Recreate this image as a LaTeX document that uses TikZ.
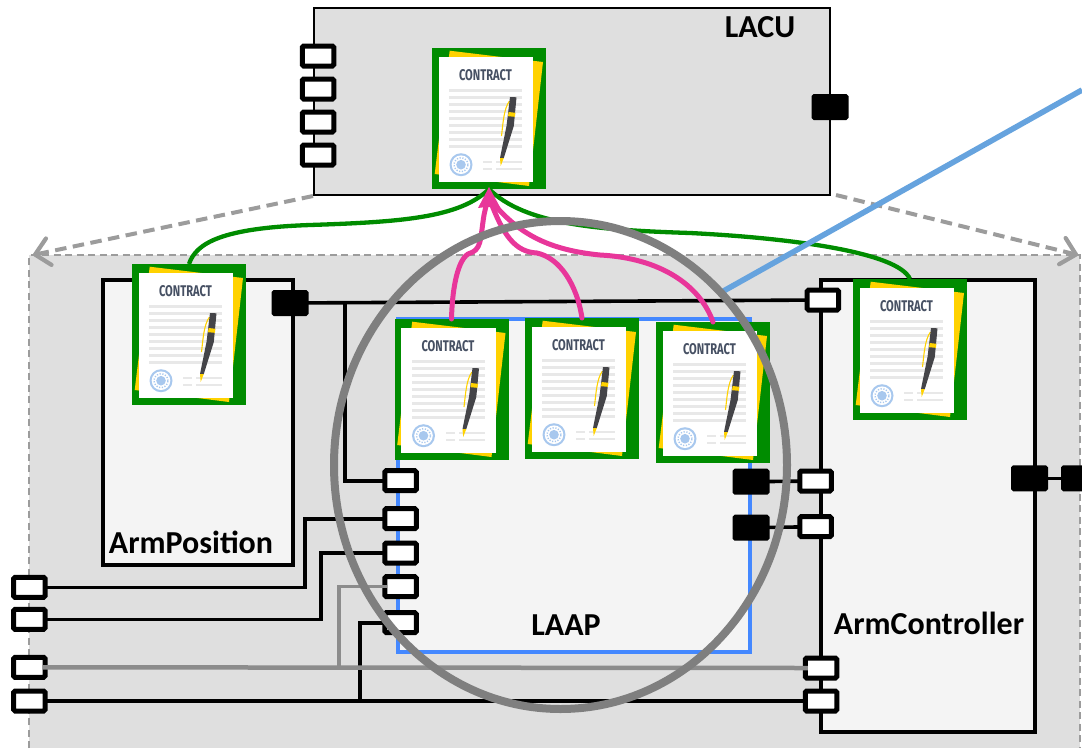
\documentclass[tikz,border=0pt]{standalone}
\usepackage{fontspec}
\usepackage{graphicx}
\setmainfont[RawFeature={+dlig}]{Carlito}
\newfontfamily\contractfont{Fira Sans}
\usetikzlibrary{shapes.geometric,arrows.meta,calc}
\definecolor{bggray}{HTML}{DFDFDF}
\definecolor{innergray}{HTML}{F4F4F4}
\definecolor{dashgray}{HTML}{9C9C9C}
\definecolor{wiregray}{HTML}{8C8C8C}
\definecolor{lensgray}{HTML}{7F7F7F}
\definecolor{laapblue}{HTML}{4488FF}
\definecolor{linkblue}{HTML}{66A3DE}
\definecolor{contractgreen}{HTML}{008C00}
\definecolor{linkpink}{HTML}{E8369A}
\definecolor{pageyellow}{HTML}{FFD200}
\definecolor{rulegray}{HTML}{E8E8E8}
\definecolor{titleslate}{HTML}{465063}
\definecolor{sealblue}{HTML}{A8C8EE}
\definecolor{pendark}{HTML}{444448}
\tikzset{
  x=1pt,y=-1pt,
  portw/.style={draw=black,fill=white,line width=5pt,rounded corners=1.5pt,minimum width=31.5pt,minimum height=20pt,inner sep=0pt,outer sep=0pt},
  portb/.style={draw=black,fill=black,line width=2pt,rounded corners=1.5pt,minimum width=35pt,minimum height=24pt,inner sep=0pt,outer sep=0pt},
  block/.style={draw=black,fill=innergray,line width=3.5pt,inner sep=0pt,outer sep=0pt,anchor=north west},
  label/.style={font=\bfseries\fontsize{32}{34}\selectfont,inner sep=0pt},
  wire/.style={draw=black,line width=3.6pt},
  graywire/.style={draw=wiregray,line width=4.5pt},
  greenlink/.style={draw=contractgreen,line width=4.3pt},
  pinklink/.style={draw=linkpink,line width=5pt,line cap=round},
  dashlink/.style={draw=dashgray,line width=4pt,dash pattern=on 11.5pt off 6.5pt,-{Straight Barb[length=14pt,width=27pt,line width=4.2pt,round]}},
  contract/.pic={
    \node (-box) [fill=contractgreen,minimum width=114pt,minimum height=141pt,inner sep=0pt,outer sep=0pt,anchor=north west] at (0,0) {};
    \fill[pageyellow] (17.7,2.7) -- (111,14) -- (97,138) -- (2.7,126) -- cycle;
    \fill[contractgreen] (0,132) rectangle (6,141);
    \fill[white] (6.7,9) rectangle (101,134);
    \node (-title) [inner sep=0pt,text=titleslate] at (53.5,27) {\resizebox{53pt}{11pt}{\contractfont\bfseries CONTRACT}};
    \foreach \ry in {42.3,49.3,...,98.4}{\fill[rulegray] (17.3,\ry-1.4) rectangle (90.3,\ry+1.4);}
    \foreach \ry in {114,121}{
      \fill[rulegray] (51.3,\ry-1.4) rectangle (60.3,\ry+1.4);
      \fill[rulegray] (64.3,\ry-1.4) rectangle (90.3,\ry+1.4);}
    \fill[sealblue] (29,116.7) circle[radius=11.5pt];
    \fill[white] (29,116.7) circle[radius=9.3pt];
    \draw[sealblue,line width=1.4pt,dash pattern=on 1.2pt off 1.6pt] (29,116.7) circle[radius=7pt];
    \fill[sealblue] (29,116.7) circle[radius=4.8pt];
    \draw[pageyellow,line width=1.1pt] (77.5,53) .. controls (72,60) and (71,75) .. (69.5,88);
    \fill[pendark] (78,49) -- (84.5,49.3) -- (81.8,78) -- (71.8,110) -- (68,110) -- (74.5,78) -- cycle;
    \fill[pageyellow] (76.6,64) -- (83.4,64.8) -- (82.9,68.8) -- (76,68.2) -- cycle;
    \fill[pageyellow] (68,110) -- (71.8,110) -- (68.7,118) -- cycle;
  },
}
\begin{document}
\begin{tikzpicture}
\useasboundingbox (0,0) rectangle (1082,748);
% containers
\fill[bggray] (29,255) rectangle (1080,748);
\draw[dashgray,line width=1.8pt,dash pattern=on 7pt off 4.5pt] (29,748) -- (29,255) -- (1080,255) -- (1080,748);
\node (lacu) [block,line width=2.4pt,fill=bggray,minimum width=516pt,minimum height=187pt] at (314,8) {};
\node (lacutitle) [label,fill=none] at (760,27) {LACU};
\coordinate (dashstartl) at (313,196);
\coordinate (dashendl) at (33,255);
\coordinate (dashstartr) at (836,195);
\coordinate (dashendr) at (1078,255);
\draw[dashlink] (dashstartl) -- (dashendl);
\draw[dashlink] (dashstartr) -- (dashendr);
\node (armpos) [block,minimum width=190pt,minimum height=285pt] at (103,280) {};
\node (armctl) [block,minimum width=214pt,minimum height=452pt] at (821,280) {};
\node (laap) [block,draw=laapblue,line width=3.8pt,minimum width=352pt,minimum height=333pt] at (398,319) {};
\node (armpostitle) [label] at (191,542) {ArmPosition};
\node (armctltitle) [label] at (929,623) {ArmController};
\node (laaptitle) [label] at (566,625) {LAAP};
% ports
\node (l1) [portw] at (318,56) {};
\node (l2) [portw] at (318,89) {};
\node (l3) [portw] at (318,122) {};
\node (l4) [portw] at (318,155) {};
\node (lb) [portb] at (830,107) {};
% wires
\coordinate (pa) at (29.3,587.3);
\coordinate (pb) at (29.3,619.3);
\coordinate (pc) at (29.3,667.3);
\coordinate (pd) at (29.3,701);
\coordinate (ia) at (400.5,480.7);
\coordinate (ib) at (400.5,518.7);
\coordinate (ic) at (400.5,553);
\coordinate (id) at (400.5,586.7);
\coordinate (ie) at (400.5,622.7);
\coordinate (ja) at (305,587.3);
\coordinate (jb) at (321,619.3);
\coordinate (jc) at (339,667.5);
\coordinate (jd) at (360,701);
\coordinate (je) at (345,303);
\coordinate (apo) at (290,303);
\coordinate (ct) at (822.8,300);
\coordinate (cg) at (821,668);
\coordinate (cb) at (821,701);
\draw[wire] (apo) -- (ct);
\draw[wire] (je) |- (ia);
\draw[wire] (pa) -- (ja) |- (ib);
\draw[wire] (pb) -- (jb) |- (ic);
\draw[wire] (pd) -- (cb);
\draw[wire] (jd) |- (ie);
\coordinate (rb1) at (751,481.7);
\coordinate (rb2) at (751,527.7);
\coordinate (rw1) at (815.5,481);
\coordinate (rw2) at (815.5,526.7);
\draw[wire] (rb1) -- (rw1);
\draw[wire] (rb2) -- (rw2);
\coordinate (eb1) at (1029.5,478.3);
\coordinate (eb2) at (1073,478.3);
\draw[wire] (eb1) -- (eb2);
% ports
\node (napo) [portb] at (apo) {};
\node (nct) [portw] at (ct) {};
\node (ncg) [portw] at (cg) {};
\node (ncb) [portw] at (cb) {};
\node (npa) [portw] at (pa) {};
\node (npb) [portw] at (pb) {};
\node (npc) [portw] at (pc) {};
\node (npd) [portw] at (pd) {};
\node (nia) [portw] at (ia) {};
\node (nib) [portw] at (ib) {};
\node (nic) [portw] at (ic) {};
\node (nid) [portw] at (id) {};
\node (nie) [portw] at (ie) {};
\node (nrb1) [portb] at (rb1) {};
\node (nrb2) [portb] at (rb2) {};
\node (nrw1) [portw] at (rw1) {};
\node (nrw2) [portw] at (rw2) {};
\node (neb1) [portb] at (eb1) {};
\node (neb2) [portb,minimum width=22pt] at (eb2) {};
% gray wires sit over the port borders
\draw[graywire] ($(npc.east)+(-2.5,0)$) -- ($(ncg.west)+(2.5,0)$);
\draw[graywire,line width=3.4pt] (jc) |- ($(nid.west)+(2.5,0)$);
% contracts
\pic (c0) at (432,48) {contract};
\pic (c1) at (394.5,319) {contract};
\pic (c2) at (525,318) {contract};
\pic (c3) at (656,322) {contract};
\pic (c4) at (853,279) {contract};
\pic (c5) at (132,264) {contract};
% green links
\draw[greenlink] (c5-box.north) .. controls (196,243) and (222,228) .. (310,225) .. controls (400,222) and (460,218) .. (c0-box.south);
\draw[greenlink] (c4-box.north) .. controls (898,252) and (790,238) .. (690,233) .. controls (600,230) and (525,225) .. (c0-box.south);
% pink links
\draw[pinklink] (c1-box.north) .. controls (452,295) and (456,262) .. (468,254) .. controls (482,250) and (480,240) .. (484,215) -- (488,197);
\draw[pinklink] (c2-box.north) .. controls (577,285) and (560,258) .. (537,253) .. controls (515,252) and (503,235) .. (490,200);
\draw[pinklink] (c3-box.north) .. controls (700,285) and (660,258) .. (600,255) .. controls (550,250) and (520,235) .. (493,203);
\fill[linkpink] (c0-box.south) ++(0,-2) -- ++(-11,21) -- ++(8,-1) -- ++(6,0) -- ++(8,0) -- cycle;
% blue link
\coordinate (blueend) at (1082,90);
\coordinate (bluestart) at (720,293);
\draw[linkblue,line width=5.6pt] (bluestart) -- (blueend);
% lens
\node (lens) [ellipse,draw=lensgray,line width=8pt,minimum width=453pt,minimum height=488pt,inner sep=0pt,outer sep=0pt] at (560.5,465) {};
\end{tikzpicture}
\end{document}
